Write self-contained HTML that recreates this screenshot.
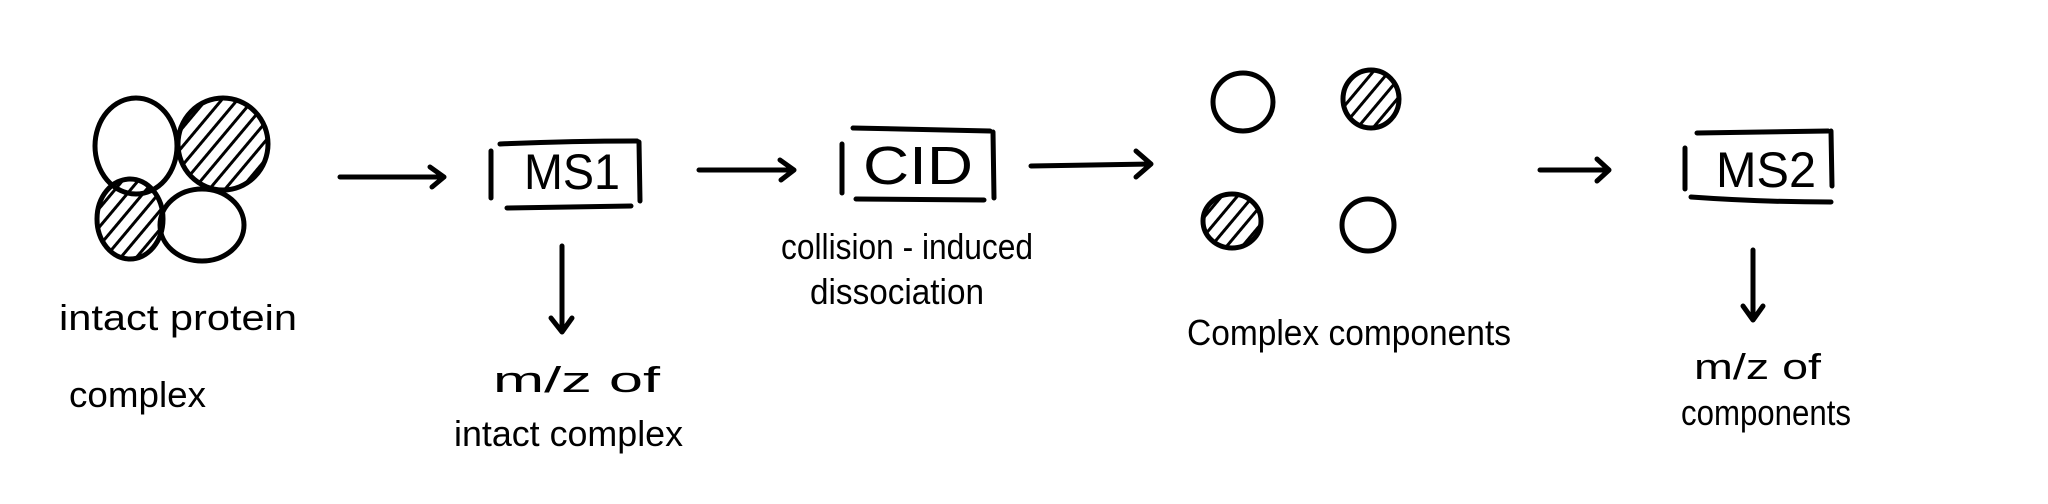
<!DOCTYPE html>
<html><head><style>html,body{margin:0;padding:0;background:#fff;overflow:hidden}svg{display:block}</style></head>
<body>
<svg width="2048" height="504" viewBox="0 0 2048 504" xmlns="http://www.w3.org/2000/svg">
<defs>
<pattern id="h" patternUnits="userSpaceOnUse" width="12" height="12" patternTransform="rotate(-50)">
<line x1="0" y1="6" x2="12" y2="6" stroke="#000" stroke-width="3"/>
</pattern>
</defs>
<g fill="none" stroke="#000" stroke-width="5" stroke-linecap="round" stroke-linejoin="round">
<ellipse cx="136" cy="146" rx="41" ry="48"/>
<ellipse cx="223" cy="144" rx="45" ry="46" fill="url(#h)"/>
<ellipse cx="130" cy="219" rx="33" ry="40" fill="url(#h)"/>
<ellipse cx="202" cy="225" rx="42" ry="36"/>
<path d="M340 177 L444 177 M430 167 L444 177 L432 187"/>
<path d="M699 170 L794 170 M780 160 L794 170 L781 180"/>
<path d="M1031 166 L1151 164 M1136 151 L1151 164 L1136 177"/>
<path d="M1540 170 L1609 170 M1597 159 L1609 170 L1597 181"/>
<path d="M562 246 L562 332 M551 318 L562 332 L572 318"/>
<path d="M1753 250 L1753 320 M1743 306 L1753 320 L1763 306"/>
<path d="M500 144 Q570 141 637 141 M507 208 Q570 207 631 206 M491 151 L491 198 M639 142 L640 201"/>
<path d="M853 128 L990 131 M856 199 L984 200 M842 144 L842 193 M993 132 L994 198"/>
<path d="M1697 133 L1828 131 M1691 197 Q1760 202 1831 202 M1685 148 L1685 189 M1831 131 L1832 186"/>
<ellipse cx="1243" cy="102" rx="30" ry="29"/>
<ellipse cx="1371" cy="99" rx="28" ry="29" fill="url(#h)"/>
<ellipse cx="1232" cy="221" rx="29" ry="27" fill="url(#h)"/>
<ellipse cx="1368" cy="225" rx="26" ry="26"/>
</g>
<g font-family="Liberation Sans Narrow, Liberation Sans, sans-serif" fill="#000">
<text x="572" y="189" font-size="50" text-anchor="middle" textLength="96" lengthAdjust="spacingAndGlyphs">MS1</text>
<text x="918" y="184" font-size="54" text-anchor="middle" textLength="110" lengthAdjust="spacingAndGlyphs">CID</text>
<text x="1766" y="187" font-size="50" text-anchor="middle" textLength="100" lengthAdjust="spacingAndGlyphs">MS2</text>
<g font-size="36">
<text x="59" y="330" textLength="238" lengthAdjust="spacingAndGlyphs">intact protein</text>
<text x="69" y="407" textLength="137" lengthAdjust="spacingAndGlyphs">complex</text>
<text x="493" y="392" textLength="167" lengthAdjust="spacingAndGlyphs">m/z   of</text>
<text x="454" y="446" textLength="229" lengthAdjust="spacingAndGlyphs">intact complex</text>
<text x="781" y="259" textLength="252" lengthAdjust="spacingAndGlyphs">collision - induced</text>
<text x="810" y="304" textLength="174" lengthAdjust="spacingAndGlyphs">dissociation</text>
<text x="1187" y="345" textLength="324" lengthAdjust="spacingAndGlyphs">Complex   components</text>
<text x="1694" y="379" textLength="127" lengthAdjust="spacingAndGlyphs">m/z   of</text>
<text x="1681" y="425" textLength="170" lengthAdjust="spacingAndGlyphs">components</text>
</g>
</g>
</svg>
</body></html>
